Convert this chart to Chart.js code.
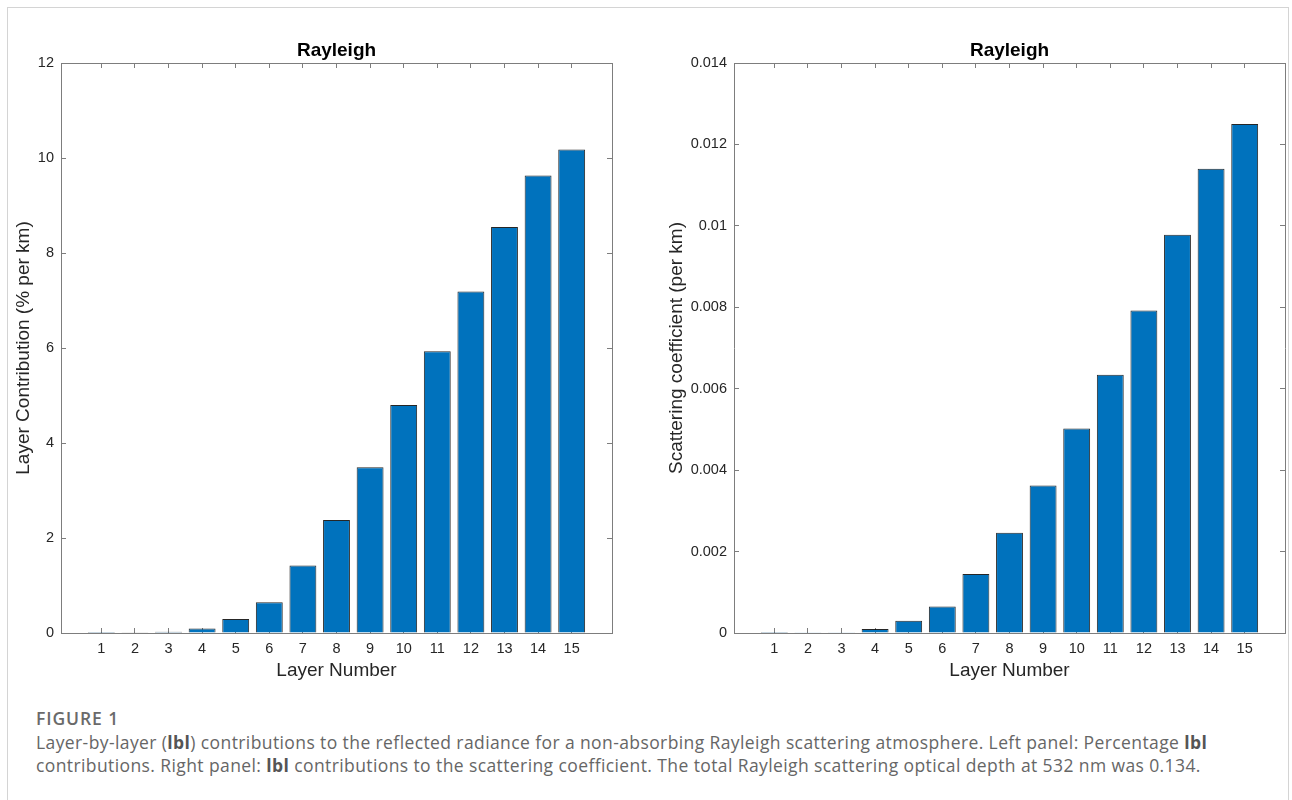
<!DOCTYPE html>
<html>
<head>
<meta charset="utf-8">
<title>Rayleigh layer contributions</title>
<script src="https://cdn.jsdelivr.net/npm/chart.js@4.4.1/dist/chart.umd.min.js"></script>
<style>
  html, body { margin: 0; padding: 0; background: #fff; }
  body { width: 1292px; height: 800px; position: relative; overflow: hidden; }
  .frame { position: absolute; left: 7px; top: 7px; width: 1280px; height: 840px; border: 1px solid #d4d4d4; }
  .panel { position: absolute; top: 0; width: 646px; height: 700px; }
  #leftPanel { left: 0; }
  #rightPanel { left: 646px; }
  .caption { position: absolute; left: 36px; top: 707px; white-space: nowrap;
             font-family: "Open Sans", Lato, sans-serif; color: #666; font-size: 17.5px; line-height: 23.5px;
             letter-spacing: 0.4px; }
  .caption .fig { font-weight: 600; color: #6a6a6a; letter-spacing: 0.9px; }
  .caption b { font-weight: 700; color: #555; }
</style>
</head>
<body>
<div class="frame"></div>
<canvas id="leftPanel" class="panel" width="646" height="700"></canvas>
<canvas id="rightPanel" class="panel" width="646" height="700"></canvas>
<div class="caption">
  <div class="fig">FIGURE 1</div>
  <div>Layer-by-layer (<b>lbl</b>) contributions to the reflected radiance for a non-absorbing Rayleigh scattering atmosphere. Left panel: Percentage <b>lbl</b></div>
  <div>contributions. Right panel: <b>lbl</b> contributions to the scattering coefficient. The total Rayleigh scattering optical depth at 532 nm was 0.134.</div>
</div>
<script>
const layers = [1, 2, 3, 4, 5, 6, 7, 8, 9, 10, 11, 12, 13, 14, 15];
// percent per km
const contributionPct = [0.001, 0.006, 0.025, 0.097, 0.295, 0.645, 1.42, 2.38, 3.49, 4.80, 5.93, 7.19, 8.55, 9.63, 10.18];
// per km
const scatteringCoef = [0.000001, 0.000005, 0.00002, 0.0001, 0.0003, 0.00065, 0.00145, 0.00246, 0.00362, 0.00502, 0.00634, 0.00792, 0.00978, 0.0114, 0.0125];
const contributionTicks = [0, 2, 4, 6, 8, 10, 12];
const scatteringTicks = [0, 0.002, 0.004, 0.006, 0.008, 0.01, 0.012, 0.014];

const axisColor = '#7d7d7d';
const textColor = '#262626';
const fontFamily = '"Liberation Sans", Arial, Helvetica, sans-serif';
const tickFont = { family: fontFamily, size: 14.5 };
const labelFont = { family: fontFamily, size: 19 };

// MATLAB-style box: ticks point inward on all four sides
const inwardGrid = {
  display: true, drawOnChartArea: false, drawTicks: true, offset: false,
  tickLength: -5, color: axisColor, lineWidth: 1
};
const axisBorder = { display: true, color: axisColor, width: 1 };

function layerPanel(canvasId, values, yTicks, yTitle, yWidth, rightWidth, yTitlePad, fmt) {
  const setX = axis => { axis.ticks = layers.map(v => ({ value: v })); };
  const setY = axis => { axis.ticks = yTicks.map(v => ({ value: v })); };
  const yMax = yTicks[yTicks.length - 1];

  return new Chart(document.getElementById(canvasId), {
    type: 'bar',
    data: {
      datasets: [{
        data: layers.map((l, i) => ({ x: l, y: values[i] })),
        backgroundColor: '#0072BD',
        borderColor: 'rgba(0, 0, 0, 0.85)',
        borderWidth: 1,
        barPercentage: 0.8,
        categoryPercentage: 1
      }]
    },
    options: {
      responsive: false,
      animation: false,
      layout: { padding: 0 },
      plugins: { legend: { display: false }, tooltip: { enabled: false } },
      scales: {
        x: {
          type: 'linear', position: 'bottom', min: -0.2, max: 16.2, offset: false,
          afterBuildTicks: setX,
          afterFit: s => { s.height = 67; },
          grid: inwardGrid, border: axisBorder,
          ticks: { color: textColor, font: tickFont, padding: 12, maxRotation: 0 },
          title: { display: true, text: 'Layer Number', color: textColor, font: labelFont, padding: { top: 0, bottom: 18 } }
        },
        xTop: {
          type: 'linear', position: 'top', min: -0.2, max: 16.2, offset: false,
          afterBuildTicks: setX,
          afterFit: s => { s.height = 63; },
          grid: inwardGrid, border: axisBorder,
          ticks: { display: false },
          title: { display: true, text: 'Rayleigh', color: '#000', font: { family: fontFamily, size: 19, weight: 'bold' }, padding: { top: 39, bottom: 0 } }
        },
        y: {
          type: 'linear', position: 'left', min: 0, max: yMax,
          afterBuildTicks: setY,
          afterFit: s => { s.width = yWidth; },
          grid: inwardGrid, border: axisBorder,
          ticks: { color: textColor, font: tickFont, padding: 12, callback: fmt },
          title: { display: true, text: yTitle, color: textColor, font: labelFont, padding: { top: yTitlePad, bottom: 0 } }
        },
        yRight: {
          type: 'linear', position: 'right', min: 0, max: yMax,
          afterBuildTicks: setY,
          afterFit: s => { s.width = rightWidth; },
          grid: inwardGrid, border: axisBorder,
          ticks: { display: false }
        }
      }
    }
  });
}

layerPanel('leftPanel', contributionPct, contributionTicks, 'Layer Contribution (% per km)', 61, 34, 12, v => String(v));
layerPanel('rightPanel', scatteringCoef, scatteringTicks, 'Scattering coefficient (per km)', 88, 7, 19, v => String(+v.toFixed(3)));
</script>
</body>
</html>
